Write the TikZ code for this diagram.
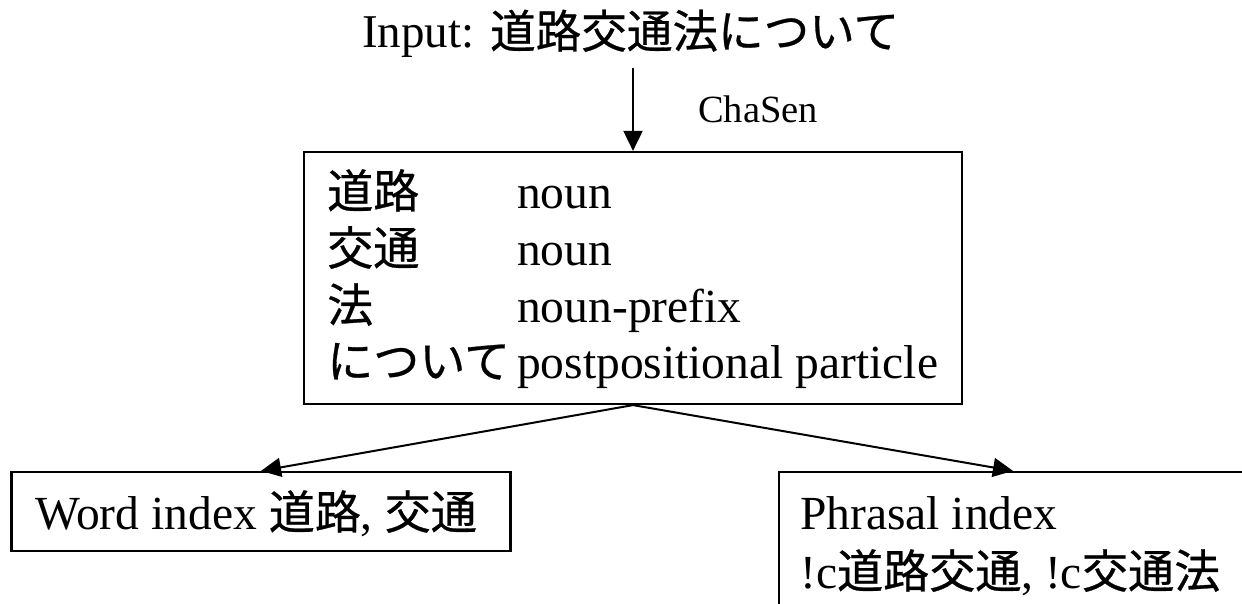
\documentclass[tikz,border=0pt]{standalone}
\usepackage{fontspec}
\setmainfont{Liberation Serif}
\newfontfamily\jp{Noto Sans CJK JP}[Scale=0.97,FakeBold=0.6]
\usetikzlibrary{arrows.meta}
\tikzset{
  box/.style={draw, line width=2.2pt, inner sep=0pt},
  txt/.style={inner sep=0pt, anchor=base west, font=\fontsize{47.5}{54}\selectfont},
  conn/.style={line width=2pt, -{Triangle[length=20pt,width=19pt]}},
}
\begin{document}
\begin{tikzpicture}[x=1pt,y=-1pt]
\clip (0,0) rectangle (1242,604);
\fill[white] (0,0) rectangle (1242,604);
% input
\node[inner sep=0pt, anchor=base west, font=\fontsize{47}{54}\selectfont] (input) at (362,48) {Input: {\jp 道路交通法について}};
\coordinate (src) at (633,68);
% main box
\node[box, minimum width=658pt, minimum height=252pt] (parse) at (633,278) {};
\node[txt] (w1) at (327,208) {\jp 道路};
\node[txt] (p1) at (517,208) {noun};
\node[txt] (w2) at (327,265) {\jp 交通};
\node[txt] (p2) at (517,265) {noun};
\node[txt] (w3) at (327,322) {\jp 法};
\node[txt] (p3) at (517,322) {noun-prefix};
\node[txt] (w4) at (327,378) {\jp について};
\node[txt] (p4) at (517,378) {postpositional particle};
\draw[conn] (src) -- (parse.north);
\node[inner sep=0pt, anchor=base west, font=\fontsize{38.5}{44}\selectfont] (chasen) at (698,123) {ChaSen};
% word index
\node[box, minimum width=499pt, minimum height=79pt] (word) at (261,511.5) {};
\node[txt] (wt) at (35,529) {Word index {\jp 道路}, {\jp 交通}};
% phrasal index
\node[box, minimum width=468pt, minimum height=160pt] (phr) at (1013,552) {};
\node[txt] (pt1) at (800,529) {Phrasal index};
\node[txt] (pt2) at (800,588) {!c{\jp 道路交通}, !c{\jp 交通法}};
% connectors
\draw[conn] (parse.south) -- (word.north);
\draw[conn] (parse.south) -- (phr.north);
\end{tikzpicture}
\end{document}
